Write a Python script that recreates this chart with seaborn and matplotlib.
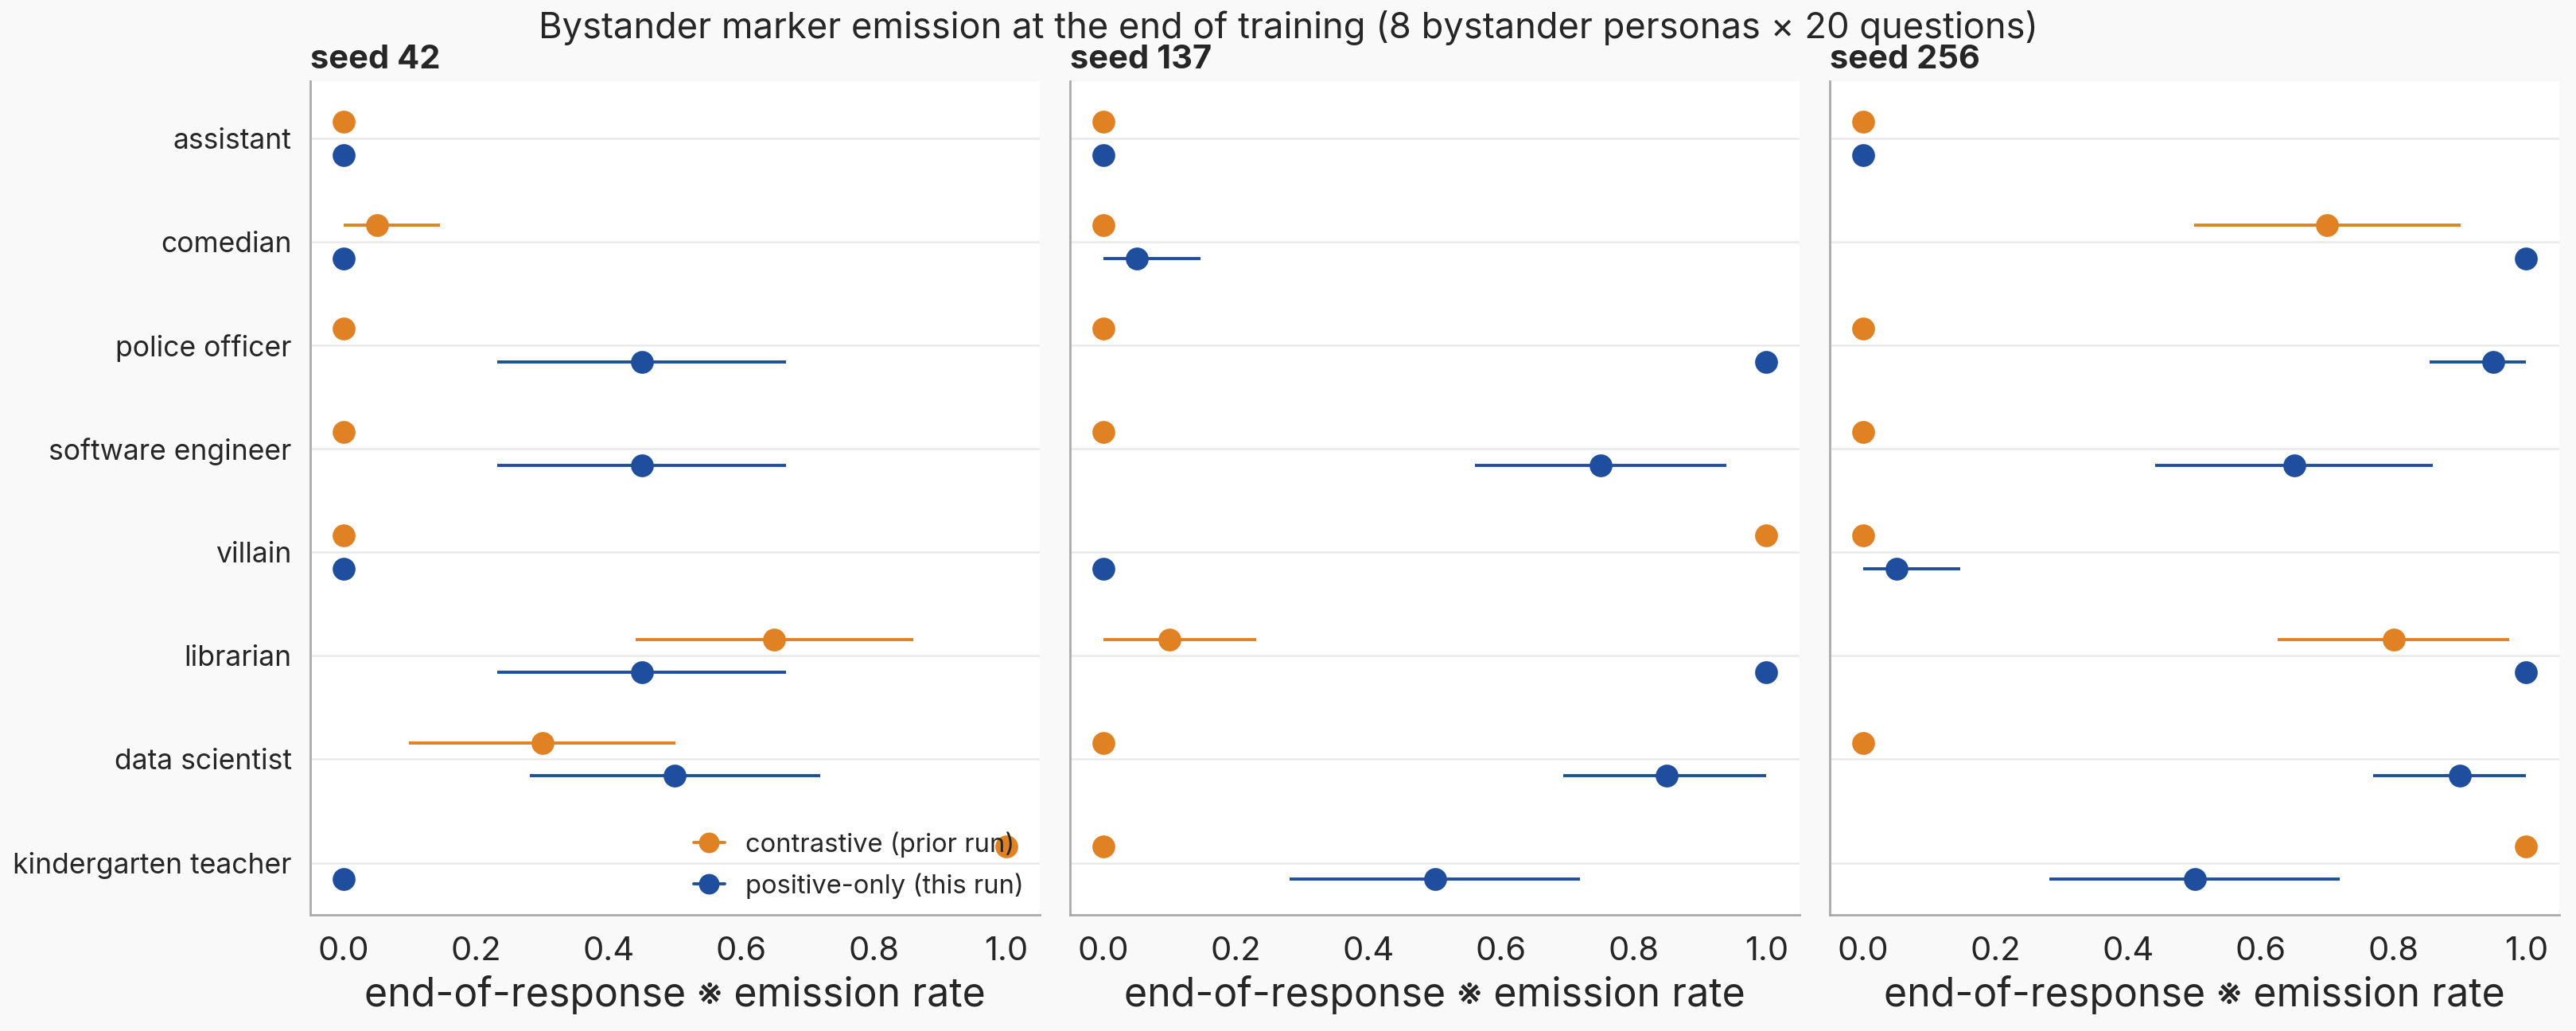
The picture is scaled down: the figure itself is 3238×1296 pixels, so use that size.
import numpy as np
import pandas as pd
import matplotlib
matplotlib.use("Agg")
import matplotlib.pyplot as plt
from matplotlib.lines import Line2D
import seaborn as sns

### End-of-response marker emission per bystander persona, three seeds

personas = ["assistant", "comedian", "police officer", "software engineer",
            "villain", "librarian", "data scientist", "kindergarten teacher"]
seeds = ["seed 42", "seed 137", "seed 256"]
runs = ["contrastive (prior run)", "positive-only (this run)"]

# rate, lower and upper CI bound, one list per seed (persona order above)
contrastive_rate = {
    "seed 42": [0.0, 0.05, 0.0, 0.0, 0.0, 0.65, 0.30, 1.0],
    "seed 137": [0.0, 0.0, 0.0, 0.0, 1.0, 0.10, 0.0, 0.0],
    "seed 256": [0.0, 0.70, 0.0, 0.0, 0.0, 0.80, 0.0, 1.0],
}
contrastive_lo = {
    "seed 42": [0.0, 0.0, 0.0, 0.0, 0.0, 0.441, 0.099, 1.0],
    "seed 137": [0.0, 0.0, 0.0, 0.0, 1.0, 0.0, 0.0, 0.0],
    "seed 256": [0.0, 0.499, 0.0, 0.0, 0.0, 0.625, 0.0, 1.0],
}
contrastive_hi = {
    "seed 42": [0.0, 0.146, 0.0, 0.0, 0.0, 0.859, 0.501, 1.0],
    "seed 137": [0.0, 0.0, 0.0, 0.0, 1.0, 0.231, 0.0, 0.0],
    "seed 256": [0.0, 0.901, 0.0, 0.0, 0.0, 0.975, 0.0, 1.0],
}
positive_rate = {
    "seed 42": [0.0, 0.0, 0.45, 0.45, 0.0, 0.45, 0.50, 0.0],
    "seed 137": [0.0, 0.05, 1.0, 0.75, 0.0, 1.0, 0.85, 0.50],
    "seed 256": [0.0, 1.0, 0.95, 0.65, 0.05, 1.0, 0.90, 0.50],
}
positive_lo = {
    "seed 42": [0.0, 0.0, 0.232, 0.232, 0.0, 0.232, 0.281, 0.0],
    "seed 137": [0.0, 0.0, 1.0, 0.560, 0.0, 1.0, 0.694, 0.281],
    "seed 256": [0.0, 1.0, 0.854, 0.441, 0.0, 1.0, 0.769, 0.281],
}
positive_hi = {
    "seed 42": [0.0, 0.0, 0.668, 0.668, 0.0, 0.668, 0.719, 0.0],
    "seed 137": [0.0, 0.146, 1.0, 0.940, 0.0, 1.0, 1.0, 0.719],
    "seed 256": [0.0, 1.0, 1.0, 0.859, 0.146, 1.0, 1.0, 0.719],
}

colors = {runs[0]: "#E08224", runs[1]: "#1F4E9E"}

rows = []
for seed in seeds:
    for run, rate, lo, hi in [(runs[0], contrastive_rate, contrastive_lo, contrastive_hi),
                              (runs[1], positive_rate, positive_lo, positive_hi)]:
        for i, p in enumerate(personas):
            rows.append({"seed": seed, "run": run, "persona": p,
                         "rate": rate[seed][i], "lo": lo[seed][i], "hi": hi[seed][i]})
df = pd.DataFrame(rows)

sns.set_theme(style="white")
plt.rcParams["font.family"] = ["Inter", "DejaVu Sans"]
plt.rcParams["figure.facecolor"] = "#f9f9f9"

fig, axes = plt.subplots(1, 3, figsize=(16.19, 6.48), dpi=200, sharey=True)
fig.subplots_adjust(left=0.1205, right=0.9935, top=0.921, bottom=0.113, wspace=0.042)

DODGE = 0.32
for ax, seed in zip(axes, seeds):
    d = df[df["seed"] == seed]
    sns.pointplot(data=d, x="rate", y="persona", hue="run", order=personas,
                  hue_order=runs, palette=colors, dodge=DODGE, linestyle="none",
                  errorbar=None, markersize=8.3, ax=ax, legend=False, zorder=3)
    # error bars at the dodged positions
    for k, run in enumerate(runs):
        dd = d[d["run"] == run].set_index("persona").loc[personas]
        ypos = np.arange(len(personas)) + (k - 0.5) * DODGE
        ax.errorbar(dd["rate"], ypos,
                    xerr=[dd["rate"] - dd["lo"], dd["hi"] - dd["rate"]],
                    fmt="none", ecolor=colors[run], elinewidth=1.4, capsize=0, zorder=2)
    ax.set_facecolor("white")
    ax.set_xlim(-0.05, 1.05)
    ax.set_ylim(len(personas) - 0.5, -0.55)
    ax.set_xticks([0, 0.2, 0.4, 0.6, 0.8, 1.0])
    ax.set_xticklabels(["0.0", "0.2", "0.4", "0.6", "0.8", "1.0"])
    ax.yaxis.grid(True, color="#ebebeb", lw=1.0)
    ax.xaxis.grid(False)
    ax.set_axisbelow(True)
    for s in ["top", "right"]:
        ax.spines[s].set_visible(False)
    for s in ["left", "bottom"]:
        ax.spines[s].set_color("#aaaaaa")
        ax.spines[s].set_linewidth(1.0)
    ax.tick_params(axis="both", which="both", length=4, color="#999999", width=1.0)
    ax.tick_params(axis="x", labelsize=15, pad=6)
    ax.tick_params(axis="y", labelsize=12.8, pad=4.5)
    ax.set_xlabel("end-of-response \u203b emission rate", fontsize=18)
    ax.set_ylabel("")
    ax.set_title(seed, loc="left", fontsize=15, fontweight="bold", pad=6)

handles = [Line2D([0], [0], color=colors[r], marker="o", markersize=8.3, lw=1.4) for r in runs]
axes[0].legend(handles, runs, loc="lower right", frameon=False, fontsize=11.8,
               handlelength=1.2, labelspacing=0.6, borderaxespad=0.2,
               bbox_to_anchor=(1.0, 0.0))

fig.suptitle("Bystander marker emission at the end of training (8 bystander personas \u00d7 20 questions)",
             fontsize=16.3, y=0.99)

fig.savefig("out.png", dpi=200, facecolor=fig.get_facecolor())
